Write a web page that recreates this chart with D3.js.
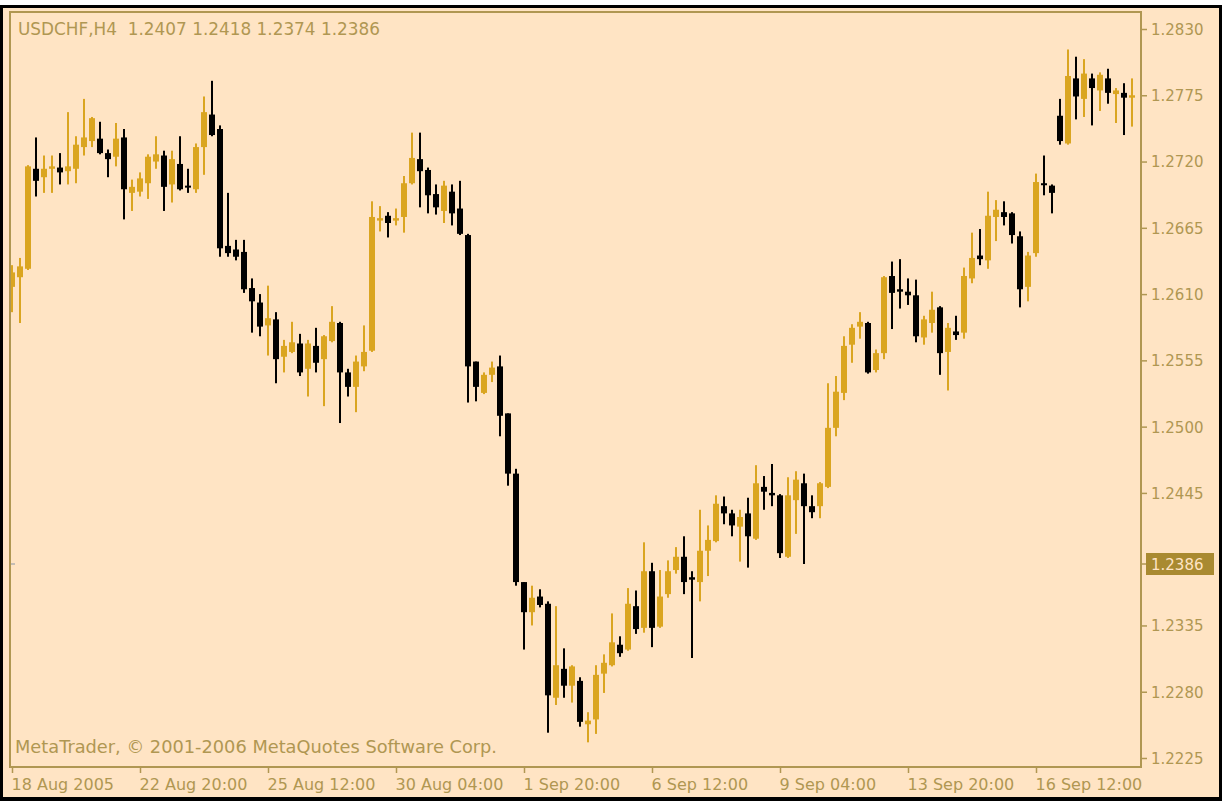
<!DOCTYPE html>
<html>
<head>
<meta charset="utf-8">
<script src="https://cdn.jsdelivr.net/npm/d3@7"></script>
<style>
  body { margin: 0; background: #ffffff; }
  svg text { font-family: "DejaVu Sans", Verdana, sans-serif; }
</style>
</head>
<body>
<div id="stage"></div>
<script>
// USDCHF H4 bars
var opens = [
  1.2616, 1.2624, 1.2631, 1.2714, 1.2707, 1.2714, 1.2715, 1.2712, 1.2714, 1.2732,
  1.2737, 1.2739, 1.2727, 1.2724, 1.2740, 1.2694, 1.2695, 1.2702, 1.2720, 1.2725,
  1.2701, 1.2718, 1.2700, 1.2697, 1.2732, 1.2759, 1.2747, 1.2650, 1.2647, 1.2645,
  1.2615, 1.2603, 1.2584, 1.2589, 1.2558, 1.2562, 1.2569, 1.2548, 1.2567, 1.2556,
  1.2571, 1.2586, 1.2545, 1.2533, 1.2550, 1.2563, 1.2671, 1.2675, 1.2671, 1.2674,
  1.2702, 1.2722, 1.2713, 1.2693, 1.2679, 1.2695, 1.2681, 1.2659, 1.2554, 1.2528,
  1.2543, 1.2550, 1.2511, 1.2461, 1.2371, 1.2346, 1.2359, 1.2353, 1.2275, 1.2299,
  1.2285, 1.2289, 1.2253, 1.2257, 1.2295, 1.2302, 1.2319, 1.2315, 1.2351, 1.2333,
  1.2380, 1.2334, 1.2361, 1.2381, 1.2392, 1.2375, 1.2371, 1.2397, 1.2405, 1.2434,
  1.2428, 1.2417, 1.2428, 1.2407, 1.2450, 1.2445, 1.2443, 1.2392, 1.2439, 1.2453,
  1.2434, 1.2434, 1.2450, 1.2499, 1.2528, 1.2568, 1.2583, 1.2586, 1.2547, 1.2561,
  1.2625, 1.2614, 1.2612, 1.2609, 1.2574, 1.2586, 1.2599, 1.2562, 1.2579, 1.2578,
  1.2623, 1.2642, 1.2638, 1.2674, 1.2678, 1.2677, 1.2658, 1.2616, 1.2644, 1.2702,
  1.2700, 1.2758, 1.2735, 1.2789, 1.2772, 1.2789, 1.2779, 1.2789, 1.2776, 1.2777,
  1.2773
];
var highs = [
  1.2634, 1.2640, 1.2717, 1.2740, 1.2725, 1.2725, 1.2727, 1.2761, 1.2741, 1.2772,
  1.2757, 1.2753, 1.2730, 1.2752, 1.2747, 1.2705, 1.2711, 1.2726, 1.2741, 1.2729,
  1.2729, 1.2741, 1.2714, 1.2735, 1.2774, 1.2787, 1.2750, 1.2694, 1.2655, 1.2655,
  1.2623, 1.2610, 1.2617, 1.2595, 1.2572, 1.2587, 1.2577, 1.2572, 1.2582, 1.2576,
  1.2600, 1.2587, 1.2548, 1.2559, 1.2584, 1.2687, 1.2683, 1.2678, 1.2681, 1.2708,
  1.2744, 1.2744, 1.2715, 1.2701, 1.2704, 1.2701, 1.2704, 1.2660, 1.2554, 1.2545,
  1.2554, 1.2559, 1.2511, 1.2465, 1.2371, 1.2368, 1.2365, 1.2355, 1.2351, 1.2316,
  1.2302, 1.2292, 1.2263, 1.2302, 1.2311, 1.2345, 1.2326, 1.2366, 1.2364, 1.2404,
  1.2387, 1.2381, 1.2389, 1.2400, 1.2409, 1.2380, 1.2431, 1.2418, 1.2443, 1.2442,
  1.2431, 1.2431, 1.2441, 1.2468, 1.2459, 1.2469, 1.2444, 1.2458, 1.2463, 1.2461,
  1.2443, 1.2454, 1.2536, 1.2542, 1.2575, 1.2585, 1.2595, 1.2587, 1.2564, 1.2625,
  1.2637, 1.2639, 1.2623, 1.2622, 1.2592, 1.2612, 1.2600, 1.2586, 1.2592, 1.2632,
  1.2661, 1.2664, 1.2695, 1.2688, 1.2687, 1.2678, 1.2662, 1.2645, 1.2710, 1.2725,
  1.2701, 1.2772, 1.2813, 1.2807, 1.2805, 1.2793, 1.2794, 1.2797, 1.2781, 1.2785,
  1.2789
];
var lows = [
  1.2595, 1.2586, 1.2630, 1.2691, 1.2694, 1.2694, 1.2701, 1.2701, 1.2702, 1.2725,
  1.2732, 1.2726, 1.2707, 1.2716, 1.2672, 1.2679, 1.2691, 1.2689, 1.2714, 1.2679,
  1.2686, 1.2696, 1.2694, 1.2694, 1.2709, 1.2741, 1.2641, 1.2641, 1.2638, 1.2611,
  1.2578, 1.2575, 1.2559, 1.2536, 1.2545, 1.2561, 1.2542, 1.2525, 1.2545, 1.2517,
  1.2570, 1.2503, 1.2525, 1.2512, 1.2546, 1.2562, 1.2662, 1.2657, 1.2667, 1.2661,
  1.2701, 1.2682, 1.2677, 1.2676, 1.2669, 1.2667, 1.2659, 1.2520, 1.2521, 1.2527,
  1.2537, 1.2492, 1.2451, 1.2368, 1.2315, 1.2335, 1.2350, 1.2246, 1.2269, 1.2275,
  1.2271, 1.2251, 1.2238, 1.2245, 1.2279, 1.2301, 1.2309, 1.2314, 1.2328, 1.2329,
  1.2317, 1.2333, 1.2358, 1.2378, 1.2361, 1.2308, 1.2355, 1.2376, 1.2404, 1.2419,
  1.2409, 1.2388, 1.2383, 1.2406, 1.2431, 1.2434, 1.2391, 1.2391, 1.2411, 1.2386,
  1.2424, 1.2424, 1.2449, 1.2492, 1.2522, 1.2553, 1.2573, 1.2544, 1.2545, 1.2556,
  1.2581, 1.2598, 1.2601, 1.2570, 1.2568, 1.2578, 1.2543, 1.2530, 1.2572, 1.2573,
  1.2619, 1.2634, 1.2631, 1.2654, 1.2667, 1.2652, 1.2599, 1.2604, 1.2641, 1.2692,
  1.2677, 1.2734, 1.2734, 1.2755, 1.2757, 1.2750, 1.2762, 1.2768, 1.2752, 1.2742,
  1.2749
];
var closes = [
  1.2628, 1.2633, 1.2716, 1.2704, 1.2714, 1.2716, 1.2711, 1.2716, 1.2734, 1.2740,
  1.2756, 1.2727, 1.2722, 1.2739, 1.2697, 1.2699, 1.2706, 1.2724, 1.2726, 1.2699,
  1.2722, 1.2697, 1.2699, 1.2732, 1.2761, 1.2742, 1.2648, 1.2644, 1.2641, 1.2614,
  1.2604, 1.2583, 1.2590, 1.2556, 1.2567, 1.2570, 1.2545, 1.2569, 1.2553, 1.2575,
  1.2587, 1.2545, 1.2533, 1.2554, 1.2562, 1.2674, 1.2673, 1.2669, 1.2673, 1.2702,
  1.2723, 1.2712, 1.2692, 1.2682, 1.2700, 1.2677, 1.2660, 1.2550, 1.2533, 1.2543,
  1.2549, 1.2509, 1.2461, 1.2371, 1.2346, 1.2358, 1.2352, 1.2277, 1.2302, 1.2285,
  1.2301, 1.2255, 1.2256, 1.2294, 1.2304, 1.2321, 1.2312, 1.2353, 1.2332, 1.2380,
  1.2333, 1.2359, 1.2380, 1.2392, 1.2371, 1.2373, 1.2397, 1.2406, 1.2436, 1.2428,
  1.2418, 1.2425, 1.2409, 1.2453, 1.2446, 1.2443, 1.2395, 1.2443, 1.2456, 1.2434,
  1.2429, 1.2453, 1.2499, 1.2529, 1.2567, 1.2582, 1.2587, 1.2545, 1.2561, 1.2624,
  1.2611, 1.2612, 1.2609, 1.2575, 1.2589, 1.2597, 1.2561, 1.2582, 1.2576, 1.2625,
  1.2640, 1.2639, 1.2675, 1.2680, 1.2674, 1.2659, 1.2614, 1.2642, 1.2703, 1.2701,
  1.2694, 1.2737, 1.2791, 1.2774, 1.2793, 1.2781, 1.2792, 1.2777, 1.2779, 1.2773,
  1.2775
];

// time axis labels and the bar they sit on
var time_labels = ["18 Aug 2005", "22 Aug 20:00", "25 Aug 12:00", "30 Aug 04:00", "1 Sep 20:00",
  "6 Sep 12:00", "9 Sep 04:00", "13 Sep 20:00", "16 Sep 12:00"];
var time_label_bars = [0, 16, 32, 48, 64, 80, 96, 112, 128];

// price axis
var price_ticks = [1.2830, 1.2775, 1.2720, 1.2665, 1.2610, 1.2555, 1.2500, 1.2445, 1.2335, 1.2280, 1.2225];
var last_price = 1.2386;
var title_text = "USDCHF,H4  1.2407 1.2418 1.2374 1.2386";
var copyright_text = "MetaTrader, \u00a9 2001-2006 MetaQuotes Software Corp.";

var stage_width = 1223;
var stage_height = 801;
var chart_color = "#b09752";
var bull_color = "#daa520";
var bear_color = "#000000";

document.onload = build_scene();

function build_scene() {
  document.getElementById("stage").innerHTML = "";

  // plot frame
  var frame = { left: 10, top: 12, right: 1141, bottom: 767 };

  var svg = d3
    .select("#stage")
    .append("svg")
    .attr("width", stage_width)
    .attr("height", stage_height);

  //black window border and bisque background
  svg.append("rect")
    .attr("x", 0).attr("y", 5)
    .attr("width", 1222).attr("height", 796)
    .attr("fill", "#000");
  svg.append("rect")
    .attr("x", 3).attr("y", 8)
    .attr("width", 1216).attr("height", 789)
    .attr("fill", "#ffe4c4");

  var bar_data = opens.map(function(o, i) {
    return { i: i, open: o, high: highs[i], low: lows[i], close: closes[i] };
  });

  // scales
  var x = d3
    .scaleLinear()
    .domain([0, bar_data.length - 1])
    .range([12, 12 + 8 * (bar_data.length - 1)]);
  var y = d3
    .scaleLinear()
    .domain([1.2225, 1.2830])
    .range([758, 29]);

  svg.append("clipPath")
    .attr("id", "plot_clip")
    .append("rect")
    .attr("x", frame.left)
    .attr("y", frame.top)
    .attr("width", frame.right - frame.left)
    .attr("height", frame.bottom - frame.top);

  var plot = svg.append("g").attr("clip-path", "url(#plot_clip)");

  var candles = plot
    .selectAll("g.candle")
    .data(bar_data)
    .enter()
    .append("g")
    .attr("class", "candle");

  // wicks
  candles
    .append("rect")
    .attr("x", function(d) { return x(d.i) - 1; })
    .attr("width", 2)
    .attr("y", function(d) { return y(d.high); })
    .attr("height", function(d) { return Math.max(2, y(d.low) - y(d.high)); })
    .attr("fill", function(d) { return d.close >= d.open ? bull_color : bear_color; });

  // bodies
  candles
    .append("rect")
    .attr("x", function(d) { return x(d.i) - 3; })
    .attr("width", 6)
    .attr("y", function(d) { return y(Math.max(d.open, d.close)); })
    .attr("height", function(d) {
      return Math.max(2, Math.abs(y(d.open) - y(d.close)));
    })
    .attr("fill", function(d) { return d.close >= d.open ? bull_color : bear_color; });

  // small ask marker at left edge
  svg.append("line")
    .attr("x1", 11).attr("x2", 15)
    .attr("y1", y(last_price)).attr("y2", y(last_price))
    .attr("stroke", "#8896a6")
    .attr("stroke-width", 1);

  // frame
  svg.append("rect")
    .attr("x", frame.left)
    .attr("y", frame.top)
    .attr("width", frame.right - frame.left)
    .attr("height", frame.bottom - frame.top)
    .attr("fill", "none")
    .attr("stroke", chart_color)
    .attr("stroke-width", 2);

  // right price axis
  var y_axis = svg
    .append("g")
    .attr("transform", "translate(" + frame.right + ",0)")
    .call(
      d3.axisRight(y)
        .tickValues(price_ticks)
        .tickFormat(d3.format(".4f"))
        .tickSizeInner(6)
        .tickSizeOuter(0)
        .tickPadding(4)
    );
  y_axis.select(".domain").remove();
  y_axis.selectAll("line").attr("stroke", chart_color).attr("stroke-width", 1.5);
  y_axis.selectAll("text")
    .attr("fill", chart_color)
    .style("font-size", "15px")
    .attr("dy", "0.36em");

  // current price label
  var ly = y(last_price);
  svg.append("line")
    .attr("x1", frame.right).attr("x2", frame.right + 6)
    .attr("y1", ly).attr("y2", ly)
    .attr("stroke", chart_color).attr("stroke-width", 1.5);
  svg.append("rect")
    .attr("x", 1146).attr("y", ly - 11)
    .attr("width", 68).attr("height", 22)
    .attr("fill", "#a98a31");
  svg.append("text")
    .attr("x", 1151).attr("y", ly + 5.5)
    .attr("fill", "#ffe4c4")
    .style("font-size", "15px")
    .text(d3.format(".4f")(last_price));

  // bottom time axis
  var x_axis = svg
    .append("g")
    .attr("transform", "translate(0," + frame.bottom + ")")
    .call(
      d3.axisBottom(x)
        .tickValues(time_label_bars)
        .tickFormat(function(d, i) { return time_labels[i]; })
        .tickSizeInner(6)
        .tickSizeOuter(0)
        .tickPadding(6)
    );
  x_axis.select(".domain").remove();
  x_axis.selectAll("line").attr("stroke", chart_color).attr("stroke-width", 1.5);
  x_axis.selectAll("text")
    .attr("fill", chart_color)
    .attr("text-anchor", "start")
    .attr("x", -1)
    .attr("y", 23)
    .attr("dy", 0)
    .style("font-size", "16px");

  // title and copyright
  svg.append("text")
    .attr("x", 18).attr("y", 35)
    .attr("fill", chart_color)
    .attr("textLength", 362)
    .attr("lengthAdjust", "spacingAndGlyphs")
    .style("font-size", "17px")
    .style("white-space", "pre")
    .text(title_text);

  svg.append("text")
    .attr("x", 15).attr("y", 753)
    .attr("fill", chart_color)
    .attr("textLength", 482)
    .attr("lengthAdjust", "spacingAndGlyphs")
    .style("font-size", "17px")
    .text(copyright_text);
}
</script>
</body>
</html>
